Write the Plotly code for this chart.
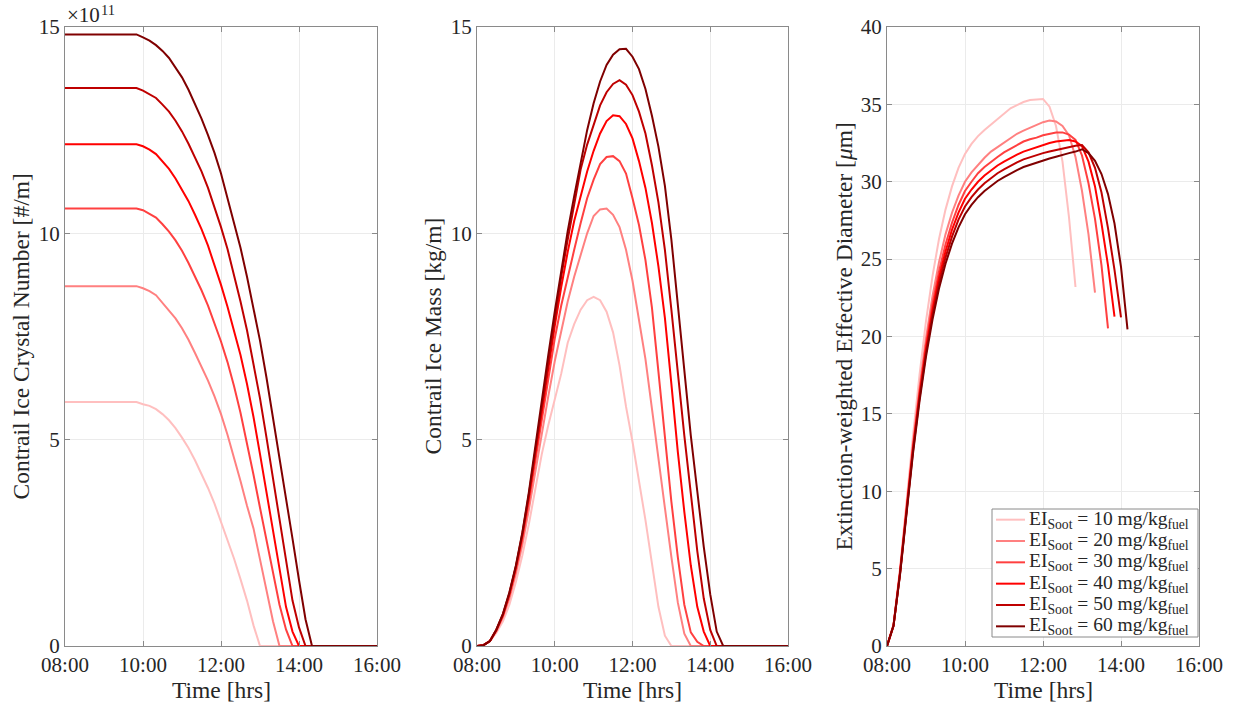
import plotly.graph_objects as go

# ---------------- data ----------------
times = ["08:00","08:10","08:20","08:30","08:40","08:50","09:00","09:10","09:20","09:30","09:40","09:50",
         "10:00","10:10","10:20","10:30","10:40","10:50","11:00","11:10","11:20","11:30","11:40","11:50",
         "12:00","12:10","12:20","12:30","12:40","12:50","13:00","13:10","13:20","13:30","13:40","13:50",
         "14:00","14:10","14:20","14:30","14:40","14:50","15:00","15:10","15:20","15:30","15:40","15:50","16:00"]

labels = ["10", "20", "30", "40", "50", "60"]
colors = ["#ffbfbf", "#ff8080", "#ff4040", "#ff0000", "#bf0000", "#800000"]

# Contrail ice crystal number [x1e11 #/m]
num_10 = [5.91,5.91,5.91,5.91,5.91,5.91,5.91,5.91,5.91,5.91,5.91,5.91,
          5.86,5.82,5.74,5.62,5.47,5.28,5.05,4.8,4.5,4.18,3.83,3.45,
          3.02,2.58,2.12,1.62,1.1,0.5,0,0,0,0,0,0,
          0,0,0,0,0,0,0,0,0,0,0,0,0]
num_20 = [8.72,8.72,8.72,8.72,8.72,8.72,8.72,8.72,8.72,8.72,8.72,8.72,
          8.67,8.6,8.5,8.32,8.14,7.94,7.7,7.42,7.1,6.78,6.43,6.05,
          5.62,5.12,4.57,4.0,3.4,2.85,2.1,1.35,0.6,0,0,0,
          0,0,0,0,0,0,0,0,0,0,0,0,0]
num_30 = [10.6,10.6,10.6,10.6,10.6,10.6,10.6,10.6,10.6,10.6,10.6,10.6,
          10.56,10.48,10.38,10.22,10.04,9.83,9.58,9.28,8.96,8.62,8.25,7.83,
          7.38,6.88,6.3,5.65,4.92,4.15,3.35,2.55,1.75,1.0,0.4,0,
          0,0,0,0,0,0,0,0,0,0,0,0,0]
num_40 = [12.16,12.16,12.16,12.16,12.16,12.16,12.16,12.16,12.16,12.16,12.16,12.16,
          12.11,12.03,11.92,11.75,11.56,11.33,11.07,10.78,10.45,10.1,9.7,9.25,
          8.75,8.22,7.65,7.05,6.35,5.55,4.65,3.7,2.75,1.8,0.95,0.35,
          0,0,0,0,0,0,0,0,0,0,0,0,0]
num_50 = [13.52,13.52,13.52,13.52,13.52,13.52,13.52,13.52,13.52,13.52,13.52,13.52,
          13.46,13.38,13.28,13.12,12.95,12.73,12.47,12.17,11.85,11.5,11.1,10.65,
          10.15,9.62,9.0,8.35,7.65,6.85,6.0,5.05,4.05,3.05,2.05,1.1,
          0.45,0,0,0,0,0,0,0,0,0,0,0,0]
num_60 = [14.82,14.82,14.82,14.82,14.82,14.82,14.82,14.82,14.82,14.82,14.82,14.82,
          14.75,14.67,14.56,14.42,14.25,14.03,13.78,13.48,13.14,12.78,12.38,11.95,
          11.45,10.85,10.25,9.65,8.95,8.2,7.4,6.5,5.55,4.6,3.6,2.6,
          1.6,0.65,0,0,0,0,0,0,0,0,0,0,0]

# Contrail ice mass [kg/m]
mass_10 = [0,0.02,0.12,0.32,0.6,1.0,1.55,2.2,2.95,3.8,4.65,5.35,
           5.95,6.6,7.35,7.8,8.15,8.38,8.46,8.38,8.1,7.6,6.8,5.8,
           4.95,4.05,3.05,2.0,0.95,0.25,0,0,0,0,0,0,
           0,0,0,0,0,0,0,0,0,0,0,0,0]
mass_20 = [0,0.02,0.12,0.36,0.7,1.15,1.75,2.45,3.3,4.25,5.2,6.05,
           6.9,7.65,8.35,8.95,9.5,10.0,10.42,10.58,10.6,10.45,10.15,9.6,
           8.85,7.95,6.95,5.75,4.6,3.35,2.16,1.05,0.3,0,0,0,
           0,0,0,0,0,0,0,0,0,0,0,0,0]
mass_30 = [0,0.02,0.12,0.38,0.73,1.22,1.85,2.6,3.5,4.5,5.5,6.5,
           7.45,8.25,8.95,9.6,10.25,10.85,11.3,11.68,11.85,11.87,11.75,11.45,
           10.85,10.2,9.35,8.2,6.65,5.05,3.5,2.15,1.0,0.33,0.1,0,
           0,0,0,0,0,0,0,0,0,0,0,0,0]
mass_40 = [0,0.02,0.12,0.39,0.75,1.26,1.9,2.68,3.6,4.65,5.7,6.75,
           7.75,8.7,9.55,10.3,10.9,11.5,12.0,12.42,12.72,12.86,12.84,12.65,
           12.3,11.75,11.1,10.25,9.2,7.95,6.35,4.7,3.25,1.95,0.95,0.35,
           0,0,0,0,0,0,0,0,0,0,0,0,0]
mass_50 = [0,0.02,0.12,0.4,0.77,1.28,1.93,2.72,3.67,4.75,5.82,6.9,
           7.95,8.95,9.85,10.7,11.55,12.15,12.65,13.1,13.42,13.62,13.71,13.6,
           13.35,12.95,12.42,11.65,10.75,9.6,8.15,6.55,5.1,3.7,2.3,1.15,
           0.39,0,0,0,0,0,0,0,0,0,0,0,0]
mass_60 = [0,0.02,0.12,0.4,0.78,1.3,1.95,2.75,3.72,4.85,5.95,7.05,
           8.1,9.1,10.05,10.9,11.75,12.5,13.15,13.68,14.08,14.33,14.46,14.47,
           14.28,13.98,13.5,12.85,12.1,11.15,9.85,8.25,6.6,5.1,3.75,2.4,
           1.25,0.35,0,0,0,0,0,0,0,0,0,0,0]

# Extinction-weighted effective diameter [um] (defined while contrail persists)
diam_10 = [0,1.4,5.0,9.4,13.6,17.5,21.0,23.9,26.3,28.2,29.7,30.9,
           31.8,32.45,32.95,33.35,33.7,34.1,34.45,34.75,34.95,35.15,35.28,35.32,
           35.35,34.85,33.6,31.3,27.7,23.2]
diam_20 = [0,1.35,4.85,9.1,13.1,16.7,19.9,22.6,24.8,26.6,28.0,29.1,
           30.0,30.6,31.1,31.55,31.95,32.25,32.55,32.85,33.1,33.3,33.5,33.65,
           33.85,33.95,33.9,33.6,33.0,31.6,29.4,26.6,22.83]
diam_30 = [0,1.3,4.75,8.95,12.9,16.4,19.5,22.1,24.2,25.95,27.35,28.5,
           29.4,30.0,30.55,30.95,31.3,31.6,31.9,32.15,32.4,32.6,32.75,32.85,
           33.0,33.1,33.18,33.19,33.05,32.7,31.7,29.9,27.6,24.6,20.53]
diam_40 = [0,1.3,4.7,8.85,12.75,16.2,19.2,21.7,23.8,25.5,26.9,28.0,
           28.9,29.5,30.0,30.4,30.75,31.05,31.3,31.55,31.75,31.95,32.1,32.2,
           32.37,32.5,32.6,32.65,32.7,32.6,32.3,31.3,29.7,27.3,24.6,21.28]
diam_50 = [0,1.3,4.65,8.75,12.6,16.0,18.95,21.4,23.45,25.1,26.45,27.55,
           28.4,29.0,29.5,29.9,30.25,30.55,30.8,31.05,31.25,31.45,31.6,31.7,
           31.85,31.95,32.05,32.15,32.25,32.32,32.37,31.9,30.9,29.3,27.0,24.3,
           21.24]
diam_60 = [0,1.3,4.6,8.65,12.45,15.8,18.7,21.1,23.1,24.7,26.0,27.05,
           27.9,28.5,29.0,29.4,29.75,30.05,30.3,30.55,30.75,30.95,31.1,31.2,
           31.35,31.5,31.62,31.75,31.85,31.95,32.1,31.85,31.35,30.5,29.2,27.3,
           24.5,20.46]

xtick_vals = [8, 10, 12, 14, 16]
xtick_text = ["08:00", "10:00", "12:00", "14:00", "16:00"]

# ---------------- figure ----------------
hours = [int(s[:2]) + int(s[3:]) / 60.0 for s in times]

num_series = [num_10, num_20, num_30, num_40, num_50, num_60]
mass_series = [mass_10, mass_20, mass_30, mass_40, mass_50, mass_60]
diam_series = [diam_10, diam_20, diam_30, diam_40, diam_50, diam_60]

FONT = "Liberation Serif"
TXT = "#262626"
AX = "#8a8a8a"
W, H = 1238, 709

def px_x(p):
    return p / W

def px_y(p):
    return 1 - p / H

fig = go.Figure()
for i, lab in enumerate(labels):
    fig.add_trace(go.Scatter(x=hours, y=num_series[i], mode="lines", xaxis="x", yaxis="y",
                             line=dict(color=colors[i], width=2), showlegend=False))
    fig.add_trace(go.Scatter(x=hours, y=mass_series[i], mode="lines", xaxis="x2", yaxis="y2",
                             line=dict(color=colors[i], width=2), showlegend=False))
    fig.add_trace(go.Scatter(x=hours[:len(diam_series[i])], y=diam_series[i], mode="lines",
                             xaxis="x3", yaxis="y3", showlegend=False,
                             line=dict(color=colors[i], width=2)))

common_axis = dict(showline=True, linecolor=AX, linewidth=1, mirror="ticks",
                   ticks="inside", ticklen=5, tickcolor=AX, showgrid=True,
                   gridcolor="#ebebeb", gridwidth=1, zeroline=False, automargin=False,
                   tickfont=dict(family=FONT, size=21, color=TXT))

ydom = [px_y(646), px_y(27)]
xdoms = [[px_x(65), px_x(377)], [px_x(477), px_x(788)], [px_x(887), px_x(1199)]]

layout = dict(width=W, height=H, margin=dict(l=0, r=0, t=0, b=0, pad=0),
              paper_bgcolor="white", plot_bgcolor="white", showlegend=False,
              font=dict(family=FONT, color=TXT))
for k, (dom, yr, yt) in enumerate(zip(xdoms, [[0, 15], [0, 15], [0, 40]],
                                      [[0, 5, 10, 15], [0, 5, 10, 15], [0, 5, 10, 15, 20, 25, 30, 35, 40]])):
    sfx = "" if k == 0 else str(k + 1)
    layout["xaxis" + sfx] = dict(common_axis, domain=dom, range=[8, 16], tickvals=xtick_vals,
                                 ticktext=xtick_text, anchor="y" + sfx)
    layout["yaxis" + sfx] = dict(common_axis, domain=ydom, range=yr, tickvals=yt,
                                 anchor="x" + sfx)

fig.update_layout(**layout)

ann = []
shapes = []
ycen = px_y(336.5)
for xc, txt in [(20, "Contrail Ice Crystal Number [#/m]"),
                (432, "Contrail Ice Mass [kg/m]"),
                (843, "Extinction-weighted Effective Diameter [<i>μ</i>m]")]:
    ann.append(dict(x=px_x(xc), y=ycen, xref="paper", yref="paper", text=txt, textangle=-90,
                    showarrow=False, xanchor="center", yanchor="middle",
                    font=dict(family=FONT, size=23.5, color=TXT)))
for xc in [221, 632.5, 1043]:
    ann.append(dict(x=px_x(xc), y=px_y(690), xref="paper", yref="paper", text="Time [hrs]",
                    showarrow=False, xanchor="center", yanchor="middle",
                    font=dict(family=FONT, size=23.5, color=TXT)))
# exponent label of the first panel: "×10" with superscript "11"
ann.append(dict(x=px_x(66), y=px_y(15), xref="paper", yref="paper", text="×10",
                showarrow=False, xanchor="left", yanchor="middle", borderpad=0,
                font=dict(family=FONT, size=21, color=TXT)))
ann.append(dict(x=px_x(99.5), y=px_y(10), xref="paper", yref="paper", text="11",
                showarrow=False, xanchor="left", yanchor="middle", borderpad=0,
                font=dict(family=FONT, size=14.5, color=TXT)))

# legend (drawn as a box with sample lines and labels)
lx0, lx1, ly0, ly1 = 992, 1198, 509, 637
shapes.append(dict(type="rect", xref="paper", yref="paper",
                   x0=px_x(lx0), x1=px_x(lx1), y0=px_y(ly1), y1=px_y(ly0),
                   line=dict(color=AX, width=1), fillcolor="white", layer="above"))
step = (ly1 - ly0) / 6.0
for i, lab in enumerate(labels):
    yc = ly0 + step * (i + 0.5)
    shapes.append(dict(type="line", xref="paper", yref="paper",
                       x0=px_x(996), x1=px_x(1025), y0=px_y(yc), y1=px_y(yc),
                       line=dict(color=colors[i], width=2), layer="above"))
    ann.append(dict(x=px_x(1027), y=px_y(yc), xref="paper", yref="paper",
                    text="EI<sub>Soot</sub> = " + lab + " mg/kg<sub>fuel</sub>",
                    showarrow=False, xanchor="left", yanchor="middle",
                    font=dict(family=FONT, size=19.5, color=TXT)))

fig.update_layout(annotations=ann, shapes=shapes)

# remove the browser's default page margin so the figure fills the window exactly
fig.write_html("out.html", config={"displayModeBar": False},
               post_script="document.body.style.margin='0px';")
